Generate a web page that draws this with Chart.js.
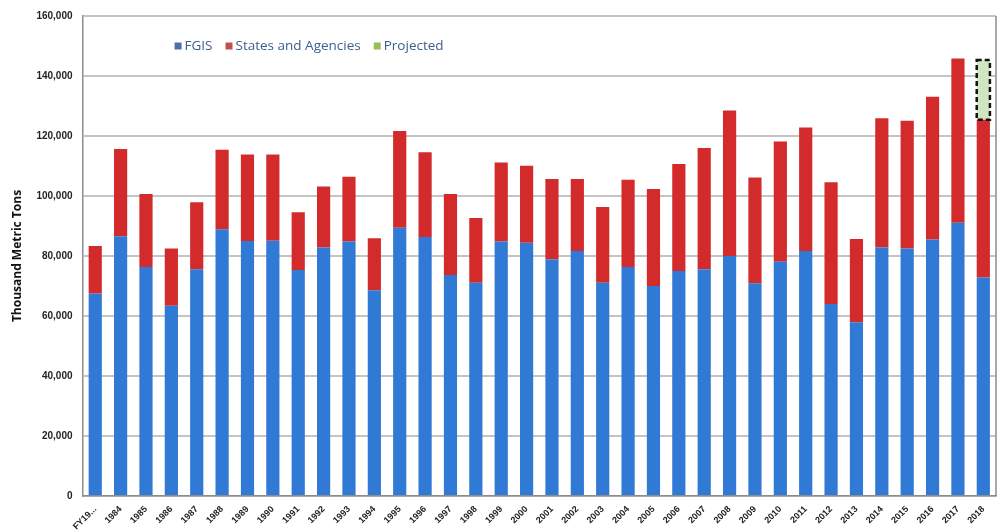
<!DOCTYPE html>
<html>
<head>
<meta charset="utf-8">
<script src="https://cdn.jsdelivr.net/npm/chart.js@4/dist/chart.umd.min.js"></script>
<style>
  html, body { margin: 0; padding: 0; background: #fff; }
  #wrap { width: 1003px; height: 531px; position: relative; }
</style>
</head>
<body>
<div id="wrap"><canvas id="bar-chart"></canvas></div>
<script>
var years = ['FY19...', '1984', '1985', '1986', '1987', '1988', '1989', '1990', '1991', '1992',
             '1993', '1994', '1995', '1996', '1997', '1998', '1999', '2000', '2001', '2002',
             '2003', '2004', '2005', '2006', '2007', '2008', '2009', '2010', '2011', '2012',
             '2013', '2014', '2015', '2016', '2017', '2018'];
// FGIS part, thousand metric tons
var fgis = [67500, 86600, 76300, 63400, 75600, 88900, 85000, 85100, 75300, 82800,
            84800, 68600, 89400, 86300, 73700, 71100, 84800, 84400, 78900, 81700,
            71100, 76300, 70000, 75000, 75600, 80000, 70900, 78100, 81700, 64000,
            57900, 82800, 82500, 85500, 91100, 72800];
// states and agencies on top
var states = [15800, 29100, 24400, 19100, 22300, 26500, 28800, 28700, 19300, 20400,
              21600, 17300, 32300, 28300, 27000, 21600, 26400, 25700, 26800, 24000,
              25200, 29100, 32300, 35700, 40400, 48500, 35300, 40100, 41100, 40600,
              27800, 43100, 42600, 47600, 54700, 52600];
// only 2018 has a projected part
var projected = [null, null, null, null, null, null, null, null, null, null,
                 null, null, null, null, null, null, null, null, null, null,
                 null, null, null, null, null, null, null, null, null, null,
                 null, null, null, null, null, 19900];
var yTicks = [0, 20000, 40000, 60000, 80000, 100000, 120000, 140000, 160000];
var legendColors = ['#4f6fa8', '#c0504d', '#9bbb59'];

var boxPlugin = {
    id: 'boxPlugin',
    afterDraw: function(chart) {
        var ctx = chart.ctx;
        var a = chart.chartArea;
        ctx.save();
        // right edge of plot
        ctx.strokeStyle = '#8c8c8c';
        ctx.lineWidth = 1.5;
        ctx.beginPath();
        ctx.moveTo(a.right, a.top);
        ctx.lineTo(a.right, a.bottom);
        ctx.stroke();
        // dashed outline for projected bar
        var meta = chart.getDatasetMeta(2);
        meta.data.forEach(function(el, i) {
            if (projected[i] == null) return;
            ctx.setLineDash([5, 3]);
            ctx.strokeStyle = '#111';
            ctx.lineWidth = 2.5;
            ctx.strokeRect(el.x - el.width / 2, el.y, el.width, el.base - el.y);
        });
        ctx.setLineDash([]);
        // legend inside plot
        var x = a.left + 92;
        var y = a.top + 30;
        ctx.font = '13.5px "Open Sans", sans-serif';
        ctx.textBaseline = 'middle';
        chart.data.datasets.forEach(function(ds, i) {
            ctx.fillStyle = legendColors[i];
            ctx.fillRect(x, y - 3.5, 7, 7);
            x += 10;
            ctx.fillStyle = '#3d5d8f';
            ctx.fillText(ds.label, x, y);
            x += ctx.measureText(ds.label).width + 13;
        });
        ctx.restore();
    }
};

var ctx = document.getElementById('bar-chart');
var chart = new Chart(ctx, {
    type: 'bar',
    data: {
        labels: years,
        datasets: [
            {
                label: 'FGIS',
                backgroundColor: '#3079d4',
                data: fgis
            },
            {
                label: 'States and Agencies',
                backgroundColor: '#d32b2c',
                data: states
            },
            {
                label: 'Projected',
                backgroundColor: '#cfe6c0',
                data: projected
            }
        ]
    },
    plugins: [boxPlugin],
    options: {
        responsive: true,
        maintainAspectRatio: false,
        animation: false,
        layout: { padding: { top: 8, right: 7, left: 10, bottom: 0 } },
        datasets: { bar: { categoryPercentage: 1, barPercentage: 0.52 } },
        plugins: {
            legend: { display: false },
            tooltip: { enabled: false }
        },
        scales: {
            x: {
                stacked: true,
                afterFit: function(scale) { scale.height = 35; },
                grid: { display: false },
                border: { color: '#8c8c8c', width: 1.5 },
                ticks: {
                    autoSkip: false,
                    maxRotation: 45,
                    minRotation: 45,
                    padding: 0,
                    color: '#222',
                    font: { family: '"Liberation Sans", sans-serif', size: 9, weight: 'bold' }
                }
            },
            y: {
                stacked: true,
                min: 0,
                max: 160000,
                afterBuildTicks: function(axis) {
                    axis.ticks = yTicks.map(function(v) { return { value: v }; });
                },
                grid: { color: '#c4c4c4', lineWidth: 2, drawTicks: false },
                border: { color: '#8c8c8c', width: 1.5 },
                title: {
                    display: true,
                    text: 'Thousand Metric Tons',
                    color: '#111',
                    padding: { top: 0, bottom: 2 },
                    font: { family: '"Open Sans", sans-serif', size: 12, weight: 'bold' }
                },
                ticks: {
                    padding: 10,
                    color: '#222',
                    font: { family: '"Liberation Sans", sans-serif', size: 10, weight: 'bold' },
                    callback: function(v) { return v.toLocaleString('en-US'); }
                }
            }
        }
    }
});
</script>
</body>
</html>
